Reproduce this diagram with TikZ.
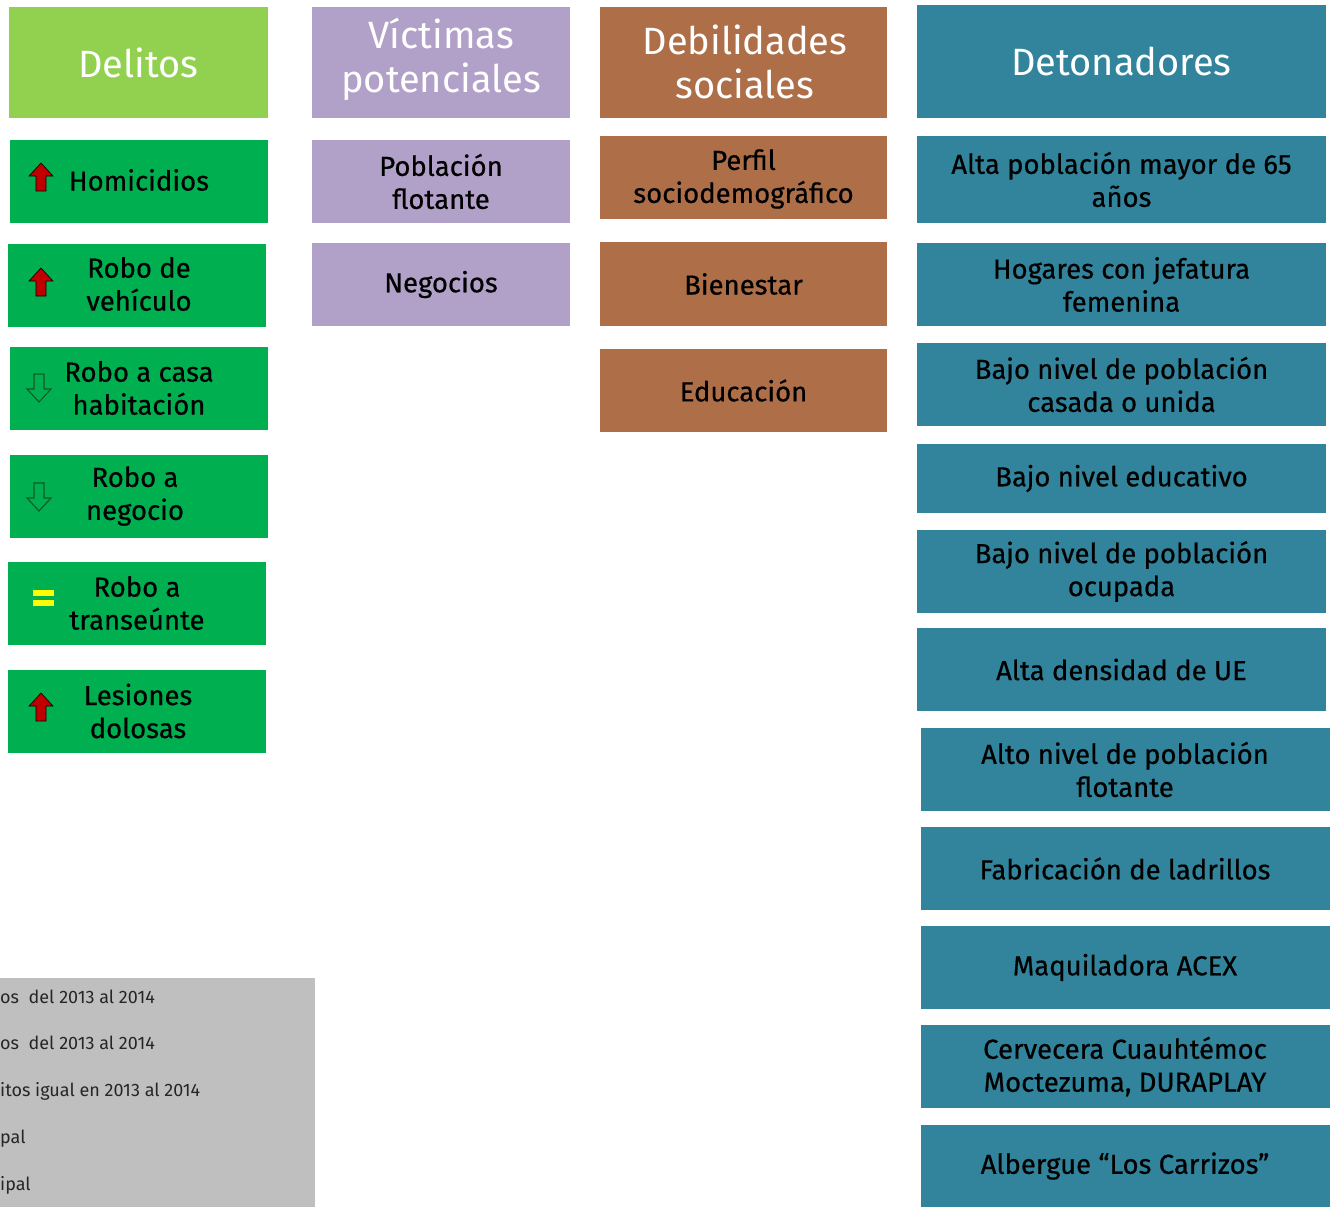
\documentclass[tikz,border=0pt]{standalone}
\usepackage{fontspec}
\setmainfont{Fira Sans}
\newfontfamily\bodyfont{Fira Sans}[FakeBold=0.5]
\usetikzlibrary{calc}
\definecolor{hdgreen}{HTML}{92D050}
\definecolor{bxgreen}{HTML}{00B050}
\definecolor{purp}{HTML}{B1A0C7}
\definecolor{brown}{HTML}{AD6E48}
\definecolor{teal}{HTML}{31849B}
\definecolor{legendgray}{HTML}{BFBFBF}
\definecolor{arrred}{HTML}{C00000}
\definecolor{arrgreen}{HTML}{0F5A28}
\definecolor{eqyellow}{HTML}{FFFF00}
\tikzset{
  x=1pt, y=-1pt,
  cell/.style={rectangle, inner sep=0pt, align=center, text=black,
    font=\bodyfont\fontsize{27.5}{33}\selectfont},
  head/.style={rectangle, inner sep=0pt, align=center, text=white,
    font=\fontsize{38}{44}\selectfont},
  upicon/.pic={\draw[fill=arrred, draw=black, line width=0.6pt]
    (0,-14) -- (12,-1) -- (5,-1) -- (5,14) -- (-5,14) -- (-5,-1) -- (-12,-1) -- cycle;},
  downicon/.pic={\draw[draw=arrgreen, line width=1.1pt]
    (0,14) -- (12,1) -- (5,1) -- (5,-14) -- (-5,-14) -- (-5,1) -- (-12,1) -- cycle;},
  eqicon/.pic={\fill[eqyellow] (-10.5,-8) rectangle (10.5,-2);
    \fill[eqyellow] (-10.5,2) rectangle (10.5,8);},
  legtext/.style={anchor=base west, inner sep=0pt, text=black!85,
    font=\fontsize{18}{20}\selectfont},
}
\begin{document}
\begin{tikzpicture}
\useasboundingbox (0,0) rectangle (1331,1207);
% Column 1: Delitos
\node[head, fill=hdgreen, minimum width=259pt, minimum height=111pt] (h1) at (138.5,62.5) {Delitos};
\node[cell, fill=bxgreen, minimum width=258pt, minimum height=83pt] (d1) at (139,181.5) {};
\node[cell] (d1t) at (139,180) {Homicidios};
\node[cell, fill=bxgreen, minimum width=258pt, minimum height=83pt] (d2) at (137,285.5) {};
\node[cell] (d2t) at (139,284) {Robo de\\vehículo};
\node[cell, fill=bxgreen, minimum width=258pt, minimum height=83pt] (d3) at (139,388.5) {};
\node[cell] (d3t) at (139,388) {Robo a casa\\habitación};
\node[cell, fill=bxgreen, minimum width=258pt, minimum height=83pt] (d4) at (139,496.5) {};
\node[cell] (d4t) at (135,496) {Robo a\\negocio};
\node[cell, fill=bxgreen, minimum width=258pt, minimum height=83pt] (d5) at (137,603.5) {};
\node[cell] (d5t) at (137,603) {Robo a\\transeúnte};
\node[cell, fill=bxgreen, minimum width=258pt, minimum height=83pt] (d6) at (137,711.5) {};
\node[cell] (d6t) at (138,711) {Lesiones\\dolosas};
\pic at (41,177) {upicon};
\pic at (41,282) {upicon};
\pic at (39,388) {downicon};
\pic at (39,497) {downicon};
\pic at (43.5,598) {eqicon};
\pic at (41,707) {upicon};
% Column 2: Victimas
\node[head, fill=purp, minimum width=258pt, minimum height=111pt] (h2) at (441,62.5) {};
\node[head] (h2t) at (441,59) {Víctimas\\potenciales};
\node[cell, fill=purp, minimum width=258pt, minimum height=83pt] (v1) at (441,181.5) {Población\\flotante};
\node[cell, fill=purp, minimum width=258pt, minimum height=83pt] (v2) at (441,284.5) {Negocios};
% Column 3: Debilidades
\node[head, fill=brown, minimum width=287pt, minimum height=111pt] (h3) at (743.5,62.5) {};
\node[head] (h3t) at (745,62) {Debilidades\\sociales};
\node[cell, fill=brown, minimum width=287pt, minimum height=83pt] (s1) at (743.5,177.5) {};
\node[cell] (s1t) at (743.5,179) {Perfil\\sociodemográfico};
\node[cell, fill=brown, minimum width=287pt, minimum height=84pt] (s2) at (743.5,284) {Bienestar};
\node[cell, fill=brown, minimum width=287pt, minimum height=83pt] (s3) at (743.5,390.5) {Educación};
% Column 4: Detonadores
\node[head, fill=teal, minimum width=409pt, minimum height=113pt] (h4) at (1121.5,61.5) {Detonadores};
\node[cell, fill=teal, minimum width=409pt, minimum height=87pt] (t1) at (1121.5,179.5) {Alta población mayor de 65\\años};
\node[cell, fill=teal, minimum width=409pt, minimum height=83pt] (t2) at (1121.5,284.5) {Hogares con jefatura\\femenina};
\node[cell, fill=teal, minimum width=409pt, minimum height=83pt] (t3) at (1121.5,384.5) {Bajo nivel de población\\casada o unida};
\node[cell, fill=teal, minimum width=409pt, minimum height=69pt] (t4) at (1121.5,478.5) {Bajo nivel educativo};
\node[cell, fill=teal, minimum width=409pt, minimum height=83pt] (t5) at (1121.5,571.5) {Bajo nivel de población\\ocupada};
\node[cell, fill=teal, minimum width=409pt, minimum height=83pt] (t6) at (1121.5,669.5) {Alta densidad de UE};
\node[cell, fill=teal, minimum width=409pt, minimum height=83pt] (t7) at (1125,769.5) {Alto nivel de población\\flotante};
\node[cell, fill=teal, minimum width=409pt, minimum height=83pt] (t8) at (1125,868.5) {Fabricación de ladrillos};
\node[cell, fill=teal, minimum width=409pt, minimum height=83pt] (t9) at (1125,967.5) {Maquiladora ACEX};
\node[cell, fill=teal, minimum width=409pt, minimum height=83pt] (t10) at (1125,1066.5) {Cervecera Cuauhtémoc\\Moctezuma, DURAPLAY};
\node[cell, fill=teal, minimum width=409pt, minimum height=82pt] (t11) at (1125,1166) {Albergue “Los Carrizos”};
% Legend
\node[rectangle, fill=legendgray, inner sep=0pt, minimum width=315pt, minimum height=229pt] (leg) at (157.5,1092.5) {};
\node[legtext] (l1) at (0,1003) {os\ \ del 2013 al 2014};
\node[legtext] (l2) at (0,1049) {os\ \ del 2013 al 2014};
\node[legtext] (l3) at (0,1096) {itos igual en 2013 al 2014};
\node[legtext] (l4) at (0,1143) {pal};
\node[legtext] (l5) at (0,1190) {ipal};
\end{tikzpicture}
\end{document}
